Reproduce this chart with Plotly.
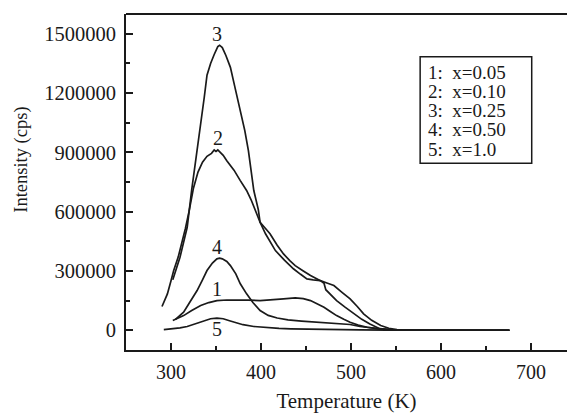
import plotly.graph_objects as go

# ---- data ----
T1 = [302, 308, 314, 323, 333, 342, 351, 362, 373, 386, 399, 412, 425, 438, 447, 455, 462, 470, 477, 484, 492, 499, 508, 518, 530, 544, 560, 600, 640, 676]
I1 = [49000, 62000, 74000, 100000, 125000, 140000, 150000, 153000, 154000, 152000, 150000, 153000, 159000, 164000, 160000, 150000, 135000, 116000, 95000, 74000, 55000, 40000, 26000, 15000, 7000, 2000, 500, 0, 0, 0]

T2 = [290, 293, 296, 300, 303, 308, 312, 316, 320, 325, 330, 335, 340, 345, 348, 350, 352, 355, 358, 362, 370, 377, 384, 389, 394, 399, 405, 410, 418, 425, 432, 438, 447, 455, 466, 470, 472, 478, 484, 493, 503, 512, 521, 532, 542, 552, 570, 600, 640, 676]
I2 = [120000, 150000, 184000, 250000, 302000, 370000, 437000, 515000, 600000, 720000, 800000, 850000, 880000, 895000, 912000, 905000, 912000, 900000, 885000, 858000, 810000, 757000, 707000, 660000, 600000, 546000, 515000, 488000, 430000, 386000, 352000, 327000, 300000, 277000, 251000, 238000, 205000, 180000, 150000, 118000, 83000, 55000, 32000, 8000, 3000, 1000, 500, 0, 0, 0]

T3 = [302, 306, 310, 314, 318, 323, 328, 333, 337, 340, 344, 348, 352, 354, 357, 361, 366, 371, 377, 382, 386, 389, 392, 397, 399, 405, 411, 416, 426, 436, 444, 451, 458, 466, 474, 481, 490, 499, 507, 514, 523, 533, 542, 551, 570, 600, 640, 676]
I3 = [256000, 310000, 369000, 445000, 521000, 710000, 870000, 1030000, 1180000, 1290000, 1350000, 1395000, 1435000, 1442000, 1430000, 1390000, 1330000, 1230000, 1111000, 1010000, 909000, 810000, 707000, 610000, 546000, 488000, 440000, 403000, 355000, 311000, 283000, 260000, 255000, 251000, 238000, 226000, 192000, 159000, 120000, 83000, 50000, 24000, 10000, 3500, 1000, 0, 0, 0]

T4 = [305, 310, 314, 320, 329, 335, 340, 346, 351, 354, 357, 362, 366, 372, 377, 384, 391, 399, 408, 418, 430, 445, 466, 485, 499, 510, 521, 533, 545, 560, 600, 640, 676]
I4 = [55000, 75000, 91000, 135000, 201000, 255000, 302000, 340000, 361000, 365000, 361000, 348000, 327000, 285000, 235000, 184000, 140000, 100000, 75000, 62000, 52000, 46000, 40000, 34000, 29000, 19000, 12000, 7000, 2000, 500, 0, 0, 0]

T5 = [292, 300, 310, 318, 326, 336, 344, 351, 358, 365, 370, 380, 392, 405, 420, 433, 450, 470, 490, 510, 540, 570, 600, 640, 676]
I5 = [3500, 6000, 12000, 19000, 32000, 49000, 58000, 61000, 58000, 48000, 40000, 28000, 19000, 13000, 9000, 7000, 5000, 4000, 3000, 1500, 500, 0, 0, 0, 0]

series_T = [T1, T2, T3, T4, T5]
series_I = [I1, I2, I3, I4, I5]
curve_labels = ["1", "2", "3", "4", "5"]
label_T = [351, 352.6, 351, 351, 351]
label_I = [209000, 975000, 1500000, 420000, 7000]

legend_lines = ["1:\u00a0\u00a0x=0.05", "2:\u00a0\u00a0x=0.10", "3:\u00a0\u00a0x=0.25",
                "4:\u00a0\u00a0x=0.50", "5:\u00a0\u00a0x=1.0"]

x_ticks = [300, 400, 500, 600, 700]
y_ticks = [0, 300000, 600000, 900000, 1200000, 1500000]

FONT = "Liberation Serif, Times New Roman, serif"
INK = "#1a1a1a"
FS = 20

fig = go.Figure()
for T, I, lab in zip(series_T, series_I, curve_labels):
    fig.add_trace(go.Scatter(x=T, y=I, mode="lines", name=lab,
                             line=dict(color=INK, width=1.7), showlegend=False))

for lab, tx, ty in zip(curve_labels, label_T, label_I):
    fig.add_annotation(x=tx, y=ty, text=lab, showarrow=False,
                       font=dict(family=FONT, size=FS, color=INK),
                       xanchor="center", yanchor="middle")

# legend box (plot area spans 441 x 336 px)
fig.add_shape(type="rect", xref="paper", yref="paper",
              x0=0.667, x1=0.92, y0=0.556, y1=0.873,
              line=dict(color=INK, width=1.5), fillcolor="white")
legend_y = [0.826, 0.769, 0.712, 0.655, 0.598]
for txt, ly in zip(legend_lines, legend_y):
    fig.add_annotation(xref="paper", yref="paper", x=0.682, y=ly, text=txt,
                       showarrow=False, xanchor="left", yanchor="middle", borderpad=0,
                       font=dict(family=FONT, size=19, color=INK))

# y-axis title (placed above centre, as in the reference)
fig.add_annotation(xref="paper", yref="paper", x=-0.236, y=0.566,
                   text="Intensity (cps)", textangle=-90, showarrow=False,
                   xanchor="center", yanchor="middle",
                   font=dict(family=FONT, size=18.5, color=INK))

# top frame line
fig.add_shape(type="line", xref="paper", yref="paper", x0=0, x1=1, y0=1, y1=1,
              line=dict(color=INK, width=2))

fig.update_layout(
    width=567, height=413,
    margin=dict(l=126, r=0, t=14, b=63),
    paper_bgcolor="white", plot_bgcolor="white",
    font=dict(family=FONT, size=FS, color=INK),
    showlegend=False,
)
fig.update_xaxes(
    range=[250, 740], showgrid=False, zeroline=False, automargin=False,
    showline=True, linecolor=INK, linewidth=2,
    tickmode="array", tickvals=x_ticks,
    ticks="inside", ticklen=7, tickwidth=1.5, tickcolor=INK,
    minor=dict(dtick=50, tick0=0, ticks="inside", ticklen=4, tickwidth=1.5, tickcolor=INK),
    tickfont=dict(family=FONT, size=FS, color=INK),
    ticklabelstandoff=3,
    title=dict(text="Temperature (K)", font=dict(family=FONT, size=21, color=INK), standoff=11),
)
fig.update_yaxes(
    range=[-100000, 1600000], showgrid=False, zeroline=False, automargin=False,
    showline=True, linecolor=INK, linewidth=2,
    tickmode="array", tickvals=y_ticks, tickformat="d",
    ticks="inside", ticklen=7, tickwidth=1.5, tickcolor=INK,
    minor=dict(dtick=150000, tick0=0, ticks="inside", ticklen=4, tickwidth=1.5, tickcolor=INK),
    tickfont=dict(family=FONT, size=20.5, color=INK),
    ticklabelstandoff=4,
)

fig.write_html("out.html", config={"displayModeBar": False},
               post_script="document.body.style.margin='0';")
